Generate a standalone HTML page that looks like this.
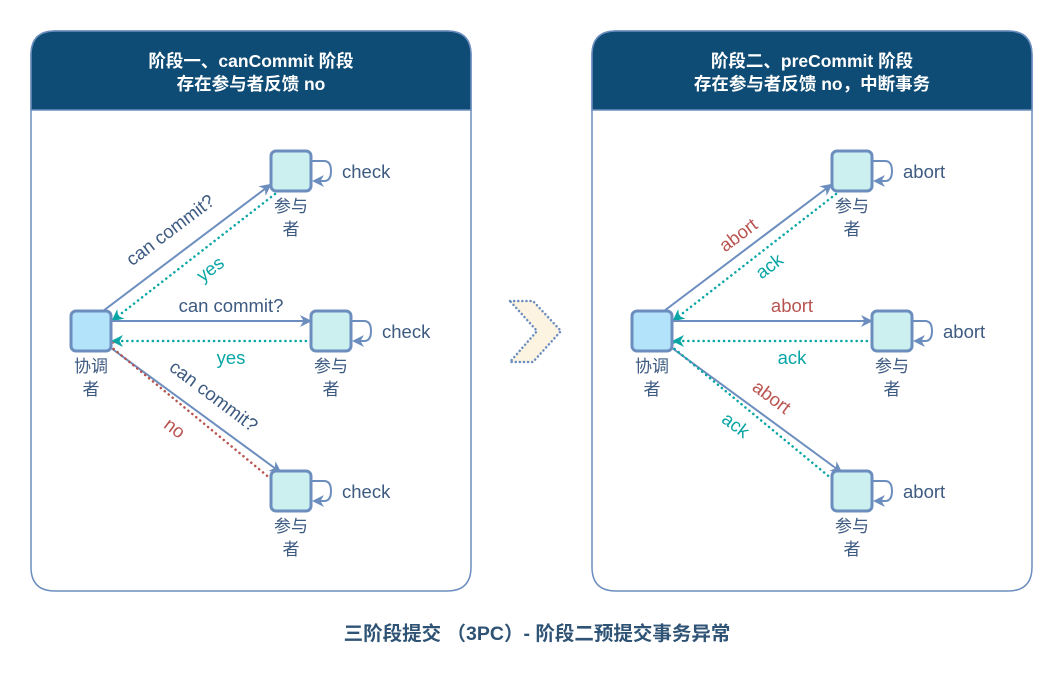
<!DOCTYPE html>
<html><head><meta charset="utf-8"><style>
html,body{margin:0;padding:0;background:#fff;}
svg{display:block;}
text{font-family:"Liberation Sans","Noto Sans CJK SC",sans-serif;}
</style></head><body>
<svg width="1062" height="681" viewBox="0 0 1062 681" xmlns="http://www.w3.org/2000/svg">
<defs>
<marker id="ab" markerWidth="13" markerHeight="13" refX="10" refY="6" orient="auto" markerUnits="userSpaceOnUse"><path d="M0,0 L12,6 L0,12 L3.5,6 Z" fill="#6c8ebf"/></marker>
<marker id="at" markerWidth="13" markerHeight="13" refX="10" refY="6" orient="auto" markerUnits="userSpaceOnUse"><path d="M0,0 L12,6 L0,12 L3.5,6 Z" fill="#0aa5a5"/></marker>
<marker id="ar" markerWidth="13" markerHeight="13" refX="10" refY="6" orient="auto" markerUnits="userSpaceOnUse"><path d="M0,0 L12,6 L0,12 L3.5,6 Z" fill="#b85450"/></marker>
</defs>

<polygon points="510,301 533,301 561,331 533,362 510,362 537,331" fill="#fdf3e1" stroke="#6c8ebf" stroke-width="2.5" stroke-dasharray="0.1,4" stroke-linecap="round"/>

<g>
<path d="M55,31 H447 Q471,31 471,55 V567 Q471,591 447,591 H55 Q31,591 31,567 V55 Q31,31 55,31 Z" fill="#fff" stroke="#6c8ebf" stroke-width="1.5"/>
<path d="M55,31 H447 Q471,31 471,55 V110 H31 V55 Q31,31 55,31 Z" fill="#0f4c75" stroke="#6c8ebf" stroke-width="1.5"/>
<text x="251" y="67" fill="#fff" font-size="17.5" font-weight="bold" text-anchor="middle">阶段一、canCommit 阶段</text>
<text x="251" y="90" fill="#fff" font-size="17.5" font-weight="bold" text-anchor="middle">存在参与者反馈 no</text>
</g>
<g>
<path d="M616,31 H1008 Q1032,31 1032,55 V567 Q1032,591 1008,591 H616 Q592,591 592,567 V55 Q592,31 616,31 Z" fill="#fff" stroke="#6c8ebf" stroke-width="1.5"/>
<path d="M616,31 H1008 Q1032,31 1032,55 V110 H592 V55 Q592,31 616,31 Z" fill="#0f4c75" stroke="#6c8ebf" stroke-width="1.5"/>
<text x="812" y="67" fill="#fff" font-size="17.5" font-weight="bold" text-anchor="middle">阶段二、preCommit 阶段</text>
<text x="812" y="90" fill="#fff" font-size="17.5" font-weight="bold" text-anchor="middle">存在参与者反馈 no，中断事务</text>
</g>

<g font-size="18.5">
<line x1="103" y1="311" x2="270" y2="185" stroke="#6c8ebf" stroke-width="2" marker-end="url(#ab)"/>
<line x1="275" y1="194" x2="113" y2="320" stroke="#0aa5a5" stroke-width="2.5" stroke-dasharray="0.1,5" stroke-linecap="round" marker-end="url(#at)"/>
<line x1="111" y1="321" x2="310" y2="321" stroke="#6c8ebf" stroke-width="2" marker-end="url(#ab)"/>
<line x1="311" y1="341" x2="113" y2="341" stroke="#0aa5a5" stroke-width="2.5" stroke-dasharray="0.1,5" stroke-linecap="round" marker-end="url(#at)"/>
<line x1="111" y1="348" x2="280" y2="472" stroke="#6c8ebf" stroke-width="2" marker-end="url(#ab)"/>
<line x1="271" y1="479" x2="104" y2="341" stroke="#b85450" stroke-width="2.5" stroke-dasharray="0.1,5" stroke-linecap="round" marker-end="url(#ar)"/>
<text fill="#3d5a80" text-anchor="middle" transform="translate(174,235) rotate(-37)">can commit?</text>
<text fill="#0aa5a5" text-anchor="middle" transform="translate(214,274) rotate(-37)">yes</text>
<text x="231" y="312" fill="#3d5a80" text-anchor="middle">can commit?</text>
<text x="231" y="364" fill="#0aa5a5" text-anchor="middle">yes</text>
<text fill="#3d5a80" text-anchor="middle" transform="translate(210,401) rotate(37)">can commit?</text>
<text fill="#b85450" text-anchor="middle" transform="translate(171,433) rotate(37)">no</text>
</g>
<g font-size="18.5">
<line x1="664" y1="311" x2="831" y2="185" stroke="#6c8ebf" stroke-width="2" marker-end="url(#ab)"/>
<line x1="836" y1="194" x2="674" y2="320" stroke="#0aa5a5" stroke-width="2.5" stroke-dasharray="0.1,5" stroke-linecap="round" marker-end="url(#at)"/>
<line x1="672" y1="321" x2="871" y2="321" stroke="#6c8ebf" stroke-width="2" marker-end="url(#ab)"/>
<line x1="872" y1="341" x2="674" y2="341" stroke="#0aa5a5" stroke-width="2.5" stroke-dasharray="0.1,5" stroke-linecap="round" marker-end="url(#at)"/>
<line x1="672" y1="348" x2="841" y2="472" stroke="#6c8ebf" stroke-width="2" marker-end="url(#ab)"/>
<line x1="832" y1="479" x2="665" y2="341" stroke="#0aa5a5" stroke-width="2.5" stroke-dasharray="0.1,5" stroke-linecap="round" marker-end="url(#at)"/>
<text fill="#b85450" text-anchor="middle" transform="translate(742,240) rotate(-37)">abort</text>
<text fill="#0aa5a5" text-anchor="middle" transform="translate(773,271) rotate(-37)">ack</text>
<text x="792" y="312" fill="#b85450" text-anchor="middle">abort</text>
<text x="792" y="364" fill="#0aa5a5" text-anchor="middle">ack</text>
<text fill="#b85450" text-anchor="middle" transform="translate(768,402) rotate(37)">abort</text>
<text fill="#0aa5a5" text-anchor="middle" transform="translate(732,430) rotate(37)">ack</text>
</g>

<g stroke="#6c8ebf" stroke-width="3">
<rect x="71" y="311" width="40" height="40" rx="5" fill="#b3e3fb"/>
<rect x="271" y="151" width="40" height="40" rx="5" fill="#ccf0f0"/>
<rect x="311" y="311" width="40" height="40" rx="5" fill="#ccf0f0"/>
<rect x="271" y="471" width="40" height="40" rx="5" fill="#ccf0f0"/>
<rect x="632" y="311" width="40" height="40" rx="5" fill="#b3e3fb"/>
<rect x="832" y="151" width="40" height="40" rx="5" fill="#ccf0f0"/>
<rect x="872" y="311" width="40" height="40" rx="5" fill="#ccf0f0"/>
<rect x="832" y="471" width="40" height="40" rx="5" fill="#ccf0f0"/>
</g>
<g fill="none" stroke="#6c8ebf" stroke-width="2">
<path d="M311,161 H324 Q331,161 331,171 Q331,181 324,181 H314" marker-end="url(#ab)"/>
<path d="M351,321 H364 Q371,321 371,331 Q371,341 364,341 H354" marker-end="url(#ab)"/>
<path d="M311,481 H324 Q331,481 331,491 Q331,501 324,501 H314" marker-end="url(#ab)"/>
<path d="M872,161 H885 Q892,161 892,171 Q892,181 885,181 H875" marker-end="url(#ab)"/>
<path d="M912,321 H925 Q932,321 932,331 Q932,341 925,341 H915" marker-end="url(#ab)"/>
<path d="M872,481 H885 Q892,481 892,491 Q892,501 885,501 H875" marker-end="url(#ab)"/>
</g>
<g font-size="18.5" fill="#3d5a80">
<text x="342" y="178">check</text>
<text x="382" y="338">check</text>
<text x="342" y="498">check</text>
<text x="903" y="178">abort</text>
<text x="943" y="338">abort</text>
<text x="903" y="498">abort</text>
</g>
<g font-size="17" fill="#3d5a80" text-anchor="middle">
<text x="91" y="372">协调</text><text x="91" y="395">者</text>
<text x="291" y="212">参与</text><text x="291" y="235">者</text>
<text x="331" y="372">参与</text><text x="331" y="395">者</text>
<text x="291" y="532">参与</text><text x="291" y="555">者</text>
<text x="652" y="372">协调</text><text x="652" y="395">者</text>
<text x="852" y="212">参与</text><text x="852" y="235">者</text>
<text x="892" y="372">参与</text><text x="892" y="395">者</text>
<text x="852" y="532">参与</text><text x="852" y="555">者</text>
</g>
<text x="537" y="640" font-size="19.5" font-weight="bold" fill="#2f5375" text-anchor="middle">三阶段提交 （3PC）- 阶段二预提交事务异常</text>
</svg>
</body></html>
